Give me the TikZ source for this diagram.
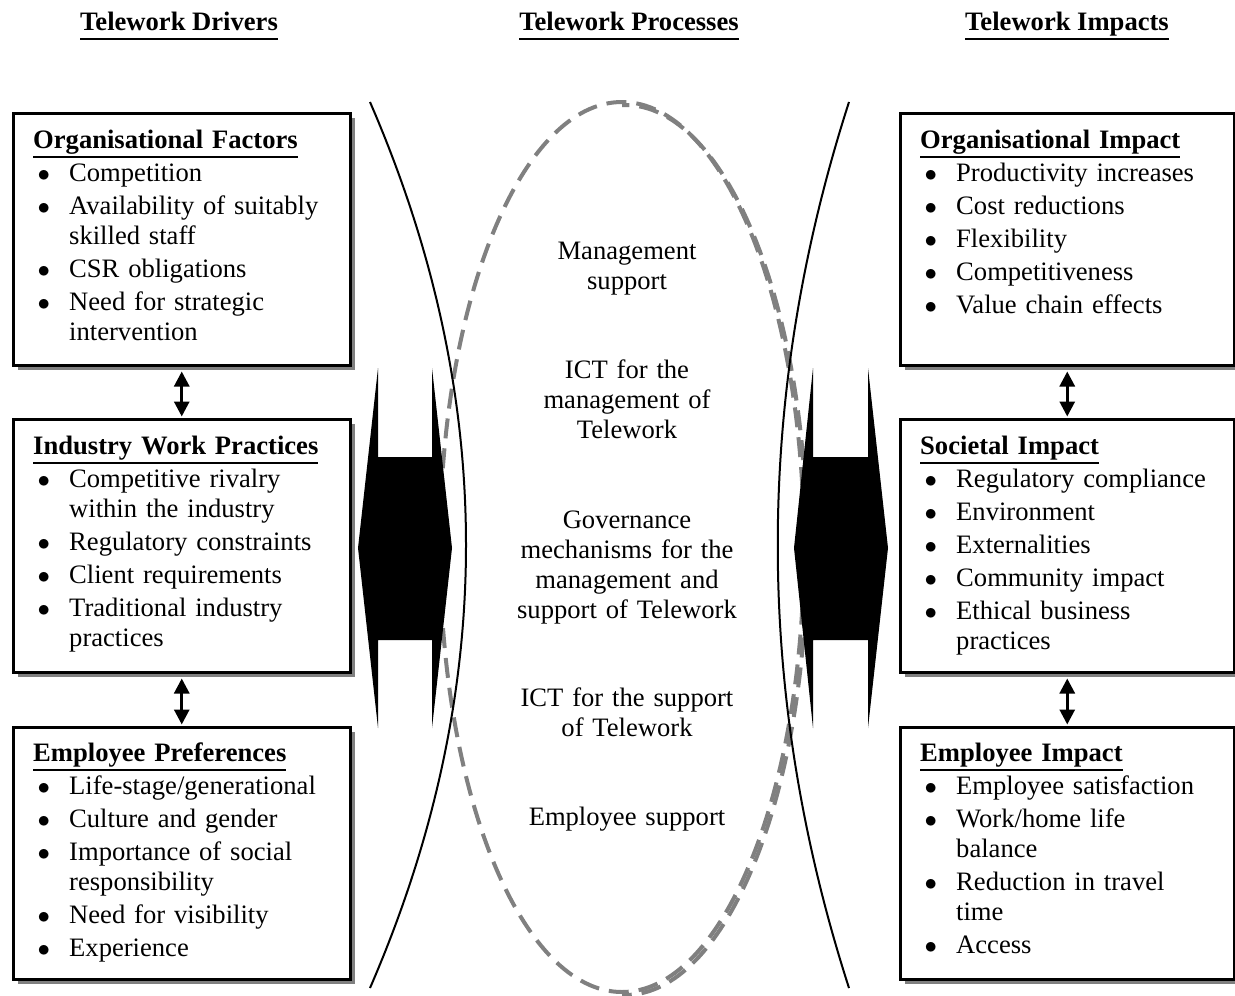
\documentclass[tikz,border=0pt]{standalone}
\usepackage{fontspec}
\setmainfont{Liberation Serif}
\usetikzlibrary{arrows.meta,shadows}
\definecolor{shadowgray}{RGB}{128,128,128}
\newcommand\hd[1]{\leavevmode\setbox0\hbox{\textbf{#1}}\rlap{\smash{\rule[-10pt]{\wd0}{2pt}}}\box0}
\newcommand\nl{\hfil\break}
\newcommand\itm[1]{\par\vspace{3pt}\noindent\hangindent=36pt\hangafter=1\makebox[36pt][l]{\hspace{4.5pt}$\bullet$}#1}
\tikzset{
  mainfont/.style={font=\fontsize{26.6}{30}\selectfont},
  box/.style={draw, line width=2.5pt, fill=white, anchor=north west, inner sep=0pt,
    drop shadow={shadow xshift=5pt, shadow yshift=-5pt, fill=shadowgray, opacity=1}},
  boxtext/.style={mainfont, anchor=base west, text width=330pt, align=left, inner sep=0pt},
  midtext/.style={mainfont, anchor=base, text width=280pt, align=center, inner sep=0pt},
  titletext/.style={mainfont, anchor=base, inner sep=0pt},
  dbl/.style={line width=3pt, {Triangle[width=15pt,length=15pt]}-{Triangle[width=15pt,length=15pt]}},
  ell/.style={draw=shadowgray, line width=4pt, dash pattern=on 20pt off 10pt},
  curve/.style={line width=2pt},
}
\begin{document}
\begin{tikzpicture}[x=1pt,y=-1pt]
\useasboundingbox (0,0) rectangle (1235,996);

% titles
\node[titletext] (t1) at (179,30) {\hd{Telework Drivers}};
\node[titletext] (t2) at (629,30) {\hd{Telework Processes}};
\node[titletext] (t3) at (1067,30) {\hd{Telework Impacts}};

% ellipse with shadow on the right
\begin{scope}
  \clip (622,0) rectangle (1235,996);
  \draw[ell] (625,550) ellipse [x radius=182pt, y radius=445pt];
\end{scope}
\draw[ell] (622,547) ellipse [x radius=182pt, y radius=445pt];

% curves
\coordinate (lt) at (370,102);
\coordinate (lb) at (370,988);
\coordinate (rt) at (849,102);
\coordinate (rb) at (849,988);
\draw[curve] (lt) .. controls (498,397) and (498,693) .. (lb);
\draw[curve] (rt) .. controls (754,397) and (754,693) .. (rb);

% big black double arrows
\fill (378,368) -- (358,548) -- (378,728) -- (378,640) -- (432,640) -- (432,728)
  -- (452,548) -- (432,368) -- (432,457) -- (378,457) -- cycle;
\fill (813,368) -- (794,548) -- (813,728) -- (813,640) -- (868,640) -- (868,728)
  -- (888,548) -- (868,368) -- (868,457) -- (813,457) -- cycle;

% middle texts
\node[midtext] (p1) at (627,259) {Management\\support};
\node[midtext] (p2) at (627,378) {ICT for the\\management of\\Telework};
\node[midtext] (p3) at (627,528) {Governance\\mechanisms for the\\management and\\support of Telework};
\node[midtext] (p4) at (627,706) {ICT for the support\\of Telework};
\node[midtext] (p5) at (627,825) {Employee support};

% left boxes
\node[box, minimum width=337pt, minimum height=252pt] (of) at (12,112) {};
\node[box, minimum width=337pt, minimum height=253pt] (iw) at (12,418) {};
\node[box, minimum width=337pt, minimum height=252pt] (ep) at (12,726) {};
% right boxes
\node[box, minimum width=334pt, minimum height=252pt] (oi) at (899,112) {};
\node[box, minimum width=334pt, minimum height=253pt] (si) at (899,418) {};
\node[box, minimum width=334pt, minimum height=252pt] (ei) at (899,726) {};

\node[boxtext] (ofT) at (33,148) {\hd{Organisational Factors}
  \itm{Competition}
  \itm{Availability of suitably\nl skilled staff}
  \itm{CSR obligations}
  \itm{Need for strategic\nl intervention}\par};
\node[boxtext] (iwT) at (33,454) {\hd{Industry Work Practices}
  \itm{Competitive rivalry\nl within the industry}
  \itm{Regulatory constraints}
  \itm{Client requirements}
  \itm{Traditional industry\nl practices}\par};
\node[boxtext] (epT) at (33,761) {\hd{Employee Preferences}
  \itm{Life-stage/generational}
  \itm{Culture and gender}
  \itm{Importance of social\nl responsibility}
  \itm{Need for visibility}
  \itm{Experience}\par};
\node[boxtext] (oiT) at (920,148) {\hd{Organisational Impact}
  \itm{Productivity increases}
  \itm{Cost reductions}
  \itm{Flexibility}
  \itm{Competitiveness}
  \itm{Value chain effects}\par};
\node[boxtext] (siT) at (920,454) {\hd{Societal Impact}
  \itm{Regulatory compliance}
  \itm{Environment}
  \itm{Externalities}
  \itm{Community impact}
  \itm{Ethical business\nl practices}\par};
\node[boxtext] (eiT) at (920,761) {\hd{Employee Impact}
  \itm{Employee satisfaction}
  \itm{Work/home life\nl balance}
  \itm{Reduction in travel\nl time}
  \itm{Access}\par};

% small double arrows between boxes
\draw[dbl, shorten <=5pt, shorten >=1.5pt] (of.south) -- (iw.north);
\draw[dbl, shorten <=5pt, shorten >=1.5pt] (iw.south) -- (ep.north);
\draw[dbl, shorten <=5pt, shorten >=1.5pt] (oi.south) -- (si.north);
\draw[dbl, shorten <=5pt, shorten >=1.5pt] (si.south) -- (ei.north);
\end{tikzpicture}
\end{document}
